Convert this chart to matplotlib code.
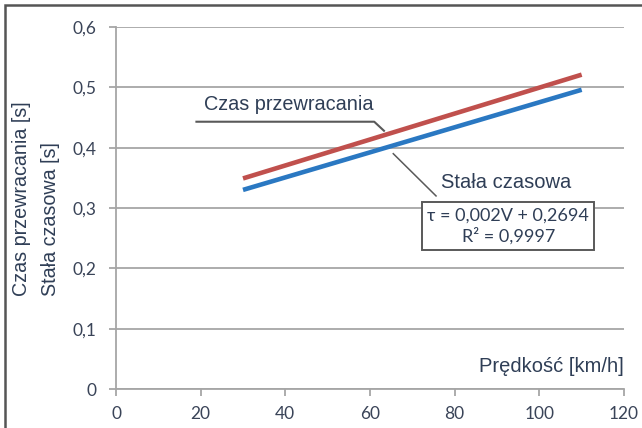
import numpy as np
import matplotlib
matplotlib.use("Agg")
import matplotlib.pyplot as plt
from matplotlib.patches import Rectangle
from matplotlib.lines import Line2D

# Dane
predkosc = [30, 110]
czas_przewracania = [0.349, 0.521]
stala_czasowa = [0.330, 0.496]

x_ticks = [0, 20, 40, 60, 80, 100, 120]
y_ticks = [0, 0.1, 0.2, 0.3, 0.4, 0.5, 0.6]
y_tick_labels = ["0", "0,1", "0,2", "0,3", "0,4", "0,5", "0,6"]

RED = "#C0504D"
BLUE = "#2A78C2"
GRID = "#A6A6A6"
TICK_COLOR = "#3A4458"
LABEL_COLOR = "#2F3E56"

plt.rcParams["font.family"] = ["Liberation Sans", "DejaVu Sans"]

fig = plt.figure(figsize=(6.42, 4.28), dpi=100)
ax = fig.add_axes([116 / 642, 1 - 389 / 428, 508 / 642, 362 / 428])

ax.plot(predkosc, czas_przewracania, color=RED, lw=3.3, solid_capstyle="butt", zorder=3)
ax.plot(predkosc, stala_czasowa, color=BLUE, lw=3.3, solid_capstyle="butt", zorder=3)

ax.set_xlim(0, 120)
ax.set_ylim(0, 0.6)
ax.set_xticks(x_ticks)
ax.set_yticks(y_ticks)
ax.set_yticklabels(y_tick_labels)
for lbl in ax.get_xticklabels() + ax.get_yticklabels():
    lbl.set_family(["Lato", "DejaVu Sans"])
    lbl.set_fontsize(12.5)
    lbl.set_color(TICK_COLOR)

ax.grid(axis="y", color=GRID, lw=1.3, zorder=0)
ax.tick_params(axis="both", colors=GRID, labelcolor=TICK_COLOR, length=5, width=1.3)
ax.tick_params(axis="x", pad=7)
ax.tick_params(axis="y", pad=9)
for s in ["top", "right"]:
    ax.spines[s].set_visible(False)
for s in ["left", "bottom"]:
    ax.spines[s].set_color(GRID)
    ax.spines[s].set_linewidth(1.3)

# Opis osi Y (dwie linie)
fig.text(22 / 642, 1 - 296 / 428, "Czas przewracania [s]", rotation=90,
         ha="center", va="bottom", fontsize=14.2, color=LABEL_COLOR)
fig.text(51 / 642, 1 - 296 / 428, "Stała czasowa [s]", rotation=90,
         ha="center", va="bottom", fontsize=14.2, color=LABEL_COLOR)

# Opis osi X
ax.text(120, 0.021, "Prędkość [km/h]", ha="right", va="bottom",
        fontsize=14.5, color=LABEL_COLOR)

# Etykieta "Czas przewracania" z linią odniesienia
ax.text(40.8, 0.456, "Czas przewracania", ha="center", va="bottom",
        fontsize=14.3, color=LABEL_COLOR)
ax.add_line(Line2D([19, 61, 63.3], [0.443, 0.443, 0.428], color="#595959", lw=1.5, zorder=4))

# Etykieta "Stała czasowa" z linią odniesienia
ax.text(92.2, 0.327, "Stała czasowa", ha="center", va="bottom",
        fontsize=14.5, color=LABEL_COLOR)
ax.add_line(Line2D([65.5, 75.6], [0.39, 0.32], color="#595959", lw=1.1, zorder=4))

# Ramka z równaniem
ax.text(92.7, 0.270, "τ = 0,002V + 0,2694\nR² = 0,9997", ha="center", va="center",
        fontsize=13, color=LABEL_COLOR, family=["Lato", "DejaVu Sans"],
        linespacing=1.3, zorder=5,
        bbox=dict(boxstyle="square,pad=0.28", fc="white", ec="#595959", lw=1.4))

# Zewnętrzna ramka
fig.add_artist(Rectangle((5 / 642, -0.1), 1.2, 1.1 - 5 / 428,
                         transform=fig.transFigure, fill=False, ec="#555555", lw=1.8))

fig.savefig("out.png", dpi=100)
